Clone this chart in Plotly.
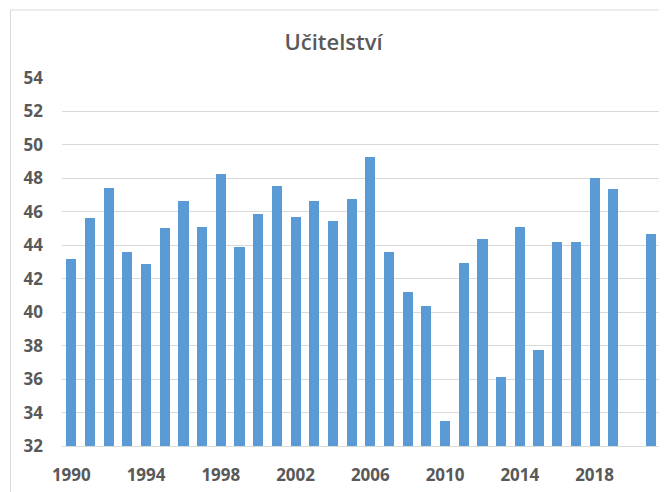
import plotly.graph_objects as go

years = list(range(1990, 2022))
values = [43.2, 45.65, 47.4, 43.6, 42.9, 45.05, 46.63, 45.12, 48.27, 43.88,
          45.85, 47.56, 45.7, 46.63, 45.45, 46.77, 49.28, 43.6, 41.23, 40.38,
          33.5, 42.97, 44.38, 36.1, 45.08, 37.75, 44.18, 44.18, 48.05, 47.35,
          None, 44.65]
x_ticks = [1990, 1994, 1998, 2002, 2006, 2010, 2014, 2018]
y_ticks = list(range(32, 55, 2))
title_text = "Učitelství"

OFF = 8  # page body margin offset
W, H = 667 - OFF, 492 - OFF
ml, mr, mt, mb = 61.5 - OFF, 7, 78 - OFF, 46
pw, ph = W - ml - mr, H - mt - mb

fig = go.Figure(go.Bar(
    x=years, y=values, width=0.54,
    marker=dict(color="#5b9bd5", line=dict(width=0)),
))

grey = "#595959"
fnt = dict(family="Open Sans, Lato, sans-serif", size=17, color=grey, weight="bold")

fig.update_layout(
    width=W, height=H,
    margin=dict(l=ml, r=mr, t=mt, b=mb, pad=0, autoexpand=False),
    paper_bgcolor="white", plot_bgcolor="white",
    showlegend=False,
    title=dict(text=title_text, x=(333.5 - OFF) / W, xanchor="center",
               y=1 - (42 - OFF) / H, yanchor="middle", yref="container",
               font=dict(family="Open Sans, Lato, sans-serif", size=22,
                         color=grey, weight=600)),
    xaxis=dict(range=[1989.5, 2021.5], tickmode="array", tickvals=x_ticks,
               ticktext=[str(v) for v in x_ticks], showgrid=False,
               showline=True, linecolor="#d9d9d9", linewidth=1,
               ticks="", tickfont=fnt, ticklabelstandoff=14, zeroline=False,
               automargin=False),
    yaxis=dict(range=[32, 54], tickmode="array", tickvals=y_ticks,
               showgrid=True, gridcolor="#d9d9d9", gridwidth=1,
               ticks="", tickfont=fnt, ticklabelstandoff=18, zeroline=False,
               showline=False, automargin=False),
    bargap=0,
)

# outer chart border (cut off at right and bottom like the reference)
fig.add_shape(type="rect", xref="paper", yref="paper",
              x0=(10 - OFF - ml) / pw, x1=(W + 5 - ml) / pw,
              y0=-(mb + 5) / ph, y1=1 + (mt - (10 - OFF)) / ph,
              line=dict(color="#d9d9d9", width=1), fillcolor="rgba(0,0,0,0)",
              layer="below")

fig.write_html("out.html")
